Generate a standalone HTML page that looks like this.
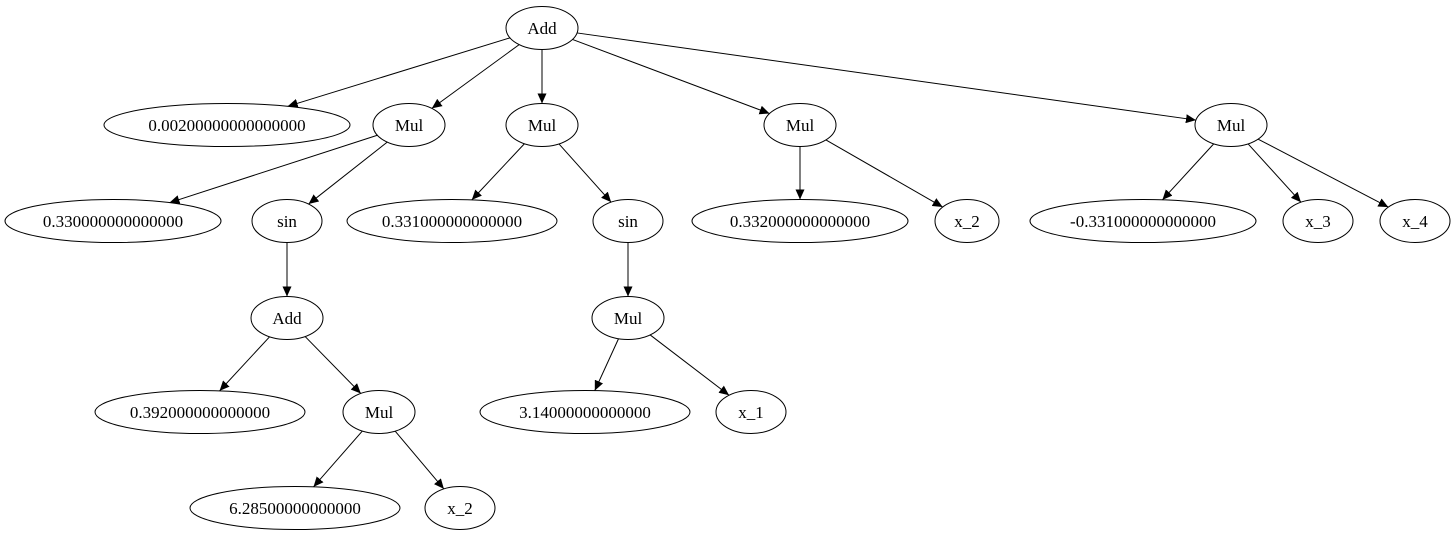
<!DOCTYPE html>
<html><head><meta charset="utf-8"><style>
html,body{margin:0;padding:0;background:#fff;width:1456px;height:539px;overflow:hidden}
svg text{font-family:"Liberation Serif",serif;font-size:17px}
</style></head><body>
<svg id="s" width="1456" height="539" xmlns="http://www.w3.org/2000/svg">
<defs><marker id="a" markerUnits="userSpaceOnUse" markerWidth="11" markerHeight="9" refX="10" refY="4.5" orient="auto"><path d="M0,0 L10,4.5 L0,9 Z" fill="#000"/></marker></defs>
</svg>
<script>
var N={
r:[542,28,36,'Add'],
c0:[227,125,123,'0.00200000000000000'],m1:[409,125,36,'Mul'],m2:[542,125,36,'Mul'],m3:[800,125,36,'Mul'],m4:[1231,125,36,'Mul'],
a1:[113,221,108,'0.330000000000000'],s1:[287,221,35,'sin'],a2:[452,221,105,'0.331000000000000'],s2:[628,221,35,'sin'],
a3:[800,221,108,'0.332000000000000'],x2a:[967,221,32,'x_2'],a4:[1143,221,113,'-0.331000000000000'],x3:[1318,221,35,'x_3'],x4:[1415,221,35,'x_4'],
ad2:[287,318,36,'Add'],mu5:[628,318,36,'Mul'],
b1:[200,412,105,'0.392000000000000'],mu6:[379,412,36,'Mul'],b2:[585,412,105,'3.14000000000000'],x1:[751,412,35,'x_1'],
d1:[295,508,105,'6.28500000000000'],x2b:[460,508,35,'x_2']};
var E=[['r','c0'],['r','m1'],['r','m2'],['r','m3'],['r','m4'],['m1','a1'],['m1','s1'],['m2','a2'],['m2','s2'],['m3','a3'],['m3','x2a'],['m4','a4'],['m4','x3'],['m4','x4'],['s1','ad2'],['s2','mu5'],['ad2','b1'],['ad2','mu6'],['mu5','b2'],['mu5','x1'],['mu6','d1'],['mu6','x2b']];
var RY=21.5,s=document.getElementById('s'),h='';
function bd(n,dx,dy){var t=1/Math.sqrt(dx*dx/(n[2]*n[2])+dy*dy/(RY*RY));return [n[0]+dx*t,n[1]+dy*t];}
E.forEach(function(e){var a=N[e[0]],b=N[e[1]],dx=b[0]-a[0],dy=b[1]-a[1];var p=bd(a,dx,dy),q=bd(b,-dx,-dy);
h+='<line x1="'+p[0]+'" y1="'+p[1]+'" x2="'+q[0]+'" y2="'+q[1]+'" stroke="#000" stroke-width="1" marker-end="url(#a)"/>';});
for(var k in N){var n=N[k];h+='<ellipse cx="'+n[0]+'" cy="'+n[1]+'" rx="'+n[2]+'" ry="'+RY+'" fill="none" stroke="#000"/><text x="'+n[0]+'" y="'+(n[1]+6)+'" text-anchor="middle">'+n[3]+'</text>';}
s.insertAdjacentHTML('beforeend',h);
</script>
</body></html>
